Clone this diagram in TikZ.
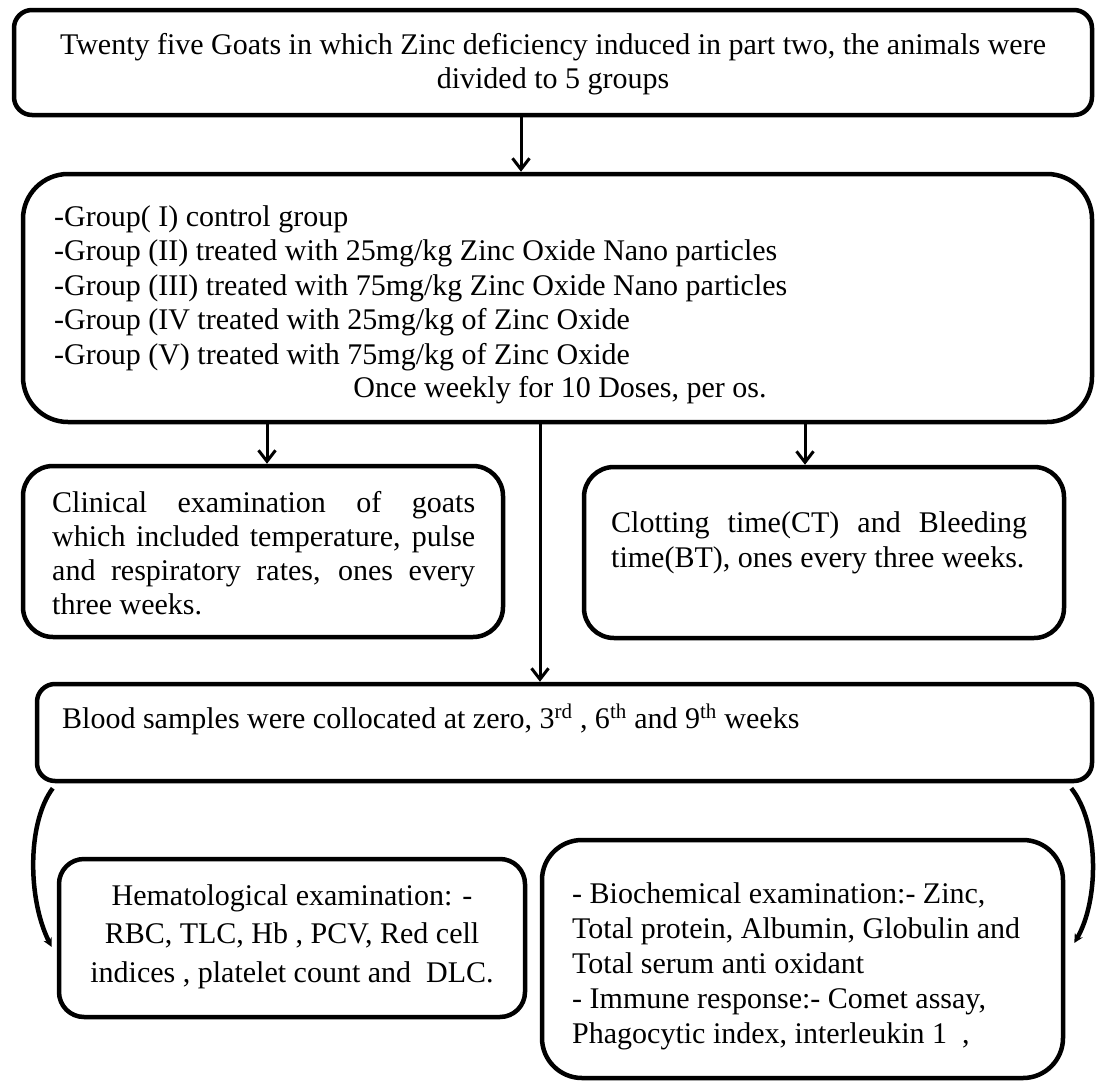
\documentclass[tikz,border=0pt]{standalone}
\usepackage{fontspec}
\setmainfont{Liberation Serif}
\usetikzlibrary{arrows.meta,calc}
\begin{document}
\begin{tikzpicture}[x=1pt,y=-1pt,
  box/.style={draw, line width=4.5pt, inner sep=0pt},
  txt/.style={inner sep=0pt, font=\fontsize{30}{34.5}\selectfont},
  arr/.style={line width=3pt, -{Straight Barb[length=11pt,width=17pt]}},
  curve/.style={line width=4.5pt, -{Stealth[length=9pt,width=9pt]}}]
\useasboundingbox (0,0) rectangle (1096,1082);
\hyphenpenalty=10000 \exhyphenpenalty=10000
% boxes
\node[box, rounded corners=18pt, minimum width=1078pt, minimum height=105pt] (top) at (553,62.5) {};
\node[box, rounded corners=45pt, minimum width=1069pt, minimum height=248pt] (group) at (557.5,298) {};
\node[box, rounded corners=30pt, minimum width=480pt, minimum height=171pt] (clin) at (263,551.5) {};
\node[box, rounded corners=30pt, minimum width=480pt, minimum height=171pt] (clot) at (824,552.5) {};
\node[box, rounded corners=18pt, minimum width=1055pt, minimum height=97pt] (blood) at (564.5,732.5) {};
\node[box, rounded corners=25pt, minimum width=466pt, minimum height=158pt] (hema) at (292,938) {};
\node[box, rounded corners=40pt, minimum width=521pt, minimum height=238pt] (bio) at (802.5,959) {};
% texts
\node[txt, align=center, anchor=north] (ttext) at (553,33)
  {Twenty five Goats in which Zinc deficiency induced in part two, the animals were\\divided to 5 groups};
\node[txt, align=left, anchor=north west] (gtext) at (54,205)
  {-Group( I) control group\\
   -Group (II) treated with 25mg/kg Zinc Oxide Nano particles\\
   -Group (III) treated with 75mg/kg Zinc Oxide Nano particles\\
   -Group (IV treated with 25mg/kg of Zinc Oxide\\
   -Group (V) treated with 75mg/kg of Zinc Oxide};
\node[txt, anchor=base] (dose) at (560,397) {Once weekly for 10 Doses, per os.};
\node[txt, font=\fontsize{30}{34}\selectfont, text width=423pt, align=justify, anchor=north west] (ctext) at (52,491)
  {Clinical examination of goats which included temperature, pulse and respiratory rates, ones every three weeks.};
\node[txt, font=\fontsize{30}{35}\selectfont, text width=416pt, align=justify, anchor=north west] (btext) at (611,511)
  {Clotting time(CT) and Bleeding time(BT), ones every three weeks.};
\node[txt, anchor=base west] (bltext) at (62,728)
  {Blood samples were collocated at zero, 3\textsuperscript{rd} , 6\textsuperscript{th} and 9\textsuperscript{th} weeks};
\node[txt, font=\fontsize{30}{38.5}\selectfont, align=center, anchor=north] (htext) at (292,884)
  {Hematological examination: -\\RBC, TLC, Hb , PCV, Red cell\\indices , platelet count and~ DLC.};
\node[txt, font=\fontsize{30}{35}\selectfont, align=left, anchor=north west] (biotext) at (572,882)
  {- Biochemical examination:- Zinc,\\Total protein, Albumin, Globulin and\\Total serum anti oxidant\\- Immune response:- Comet assay,\\Phagocytic index, interleukin 1~~,};
% connectors
\coordinate (tarr) at ($(top.south)+(-32,0)$);
\draw[arr] (tarr) -- (tarr |- group.north);
\coordinate (larr) at ($(clin.north)+(4,0)$);
\draw[arr] (group.south -| larr) -- (larr);
\coordinate (rarr) at ($(clot.north)+(-19,0)$);
\draw[arr] (group.south -| rarr) -- (rarr);
\coordinate (carr) at ($(blood.north)+(-24.5,0)$);
\draw[arr] (group.south -| carr) -- (carr);
\draw[curve] ($(blood.south west)+(18,5)$) .. controls ($(blood.south west)+(-8,40)$) and ($(hema.west)+(-29,-38)$) .. ($(hema.west)+(-5,9)$);
\draw[curve] ($(blood.south east)+(-23,5)$) .. controls ($(blood.south east)+(5,40)$) and ($(bio.east)+(34,-59)$) .. ($(bio.east)+(9,-16)$);
\end{tikzpicture}
\end{document}
